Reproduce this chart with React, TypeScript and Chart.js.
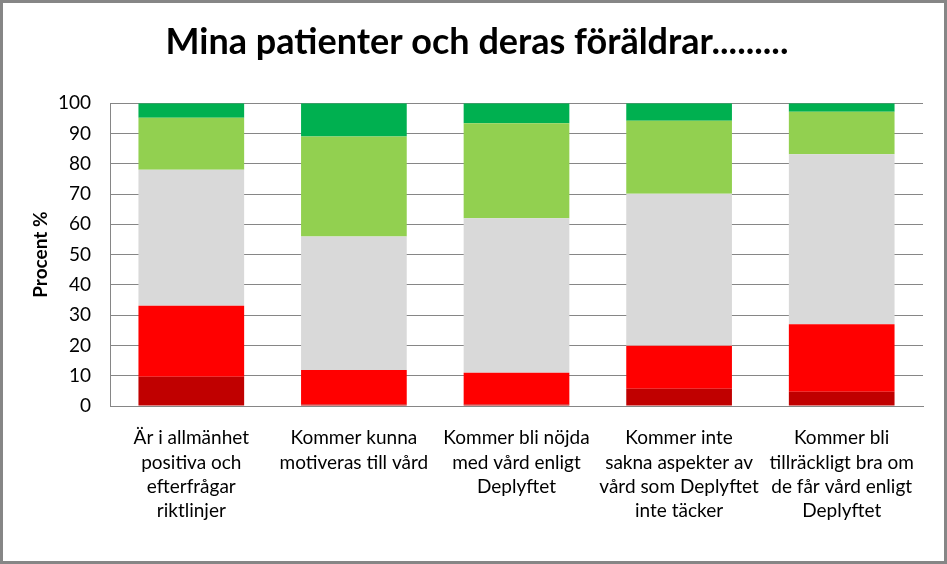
import React, { useEffect, useRef } from "react";
import { Chart, registerables } from "chart.js";

Chart.register(...registerables);

const categories: string[][] = [
  ["Är i allmänhet", "positiva och", "efterfrågar", "riktlinjer"],
  ["Kommer kunna", "motiveras till vård"],
  ["Kommer bli nöjda", "med vård enligt", "Deplyftet"],
  ["Kommer inte", "sakna aspekter av", "vård som Deplyftet", "inte täcker"],
  ["Kommer bli", "tillräckligt bra om", "de får vård enligt", "Deplyftet"],
];

const darkRed = [9.7, 0.5, 0.5, 5.7, 4.7];
const red = [23.4, 11.4, 10.5, 14.2, 22.3];
const gray = [44.9, 44.1, 51.0, 50.2, 56.1];
const lightGreen = [17.2, 33.0, 31.4, 24.1, 14.1];
const darkGreen = [4.8, 11.0, 6.6, 5.8, 2.8];

const yTicks = [0, 10, 20, 30, 40, 50, 60, 70, 80, 90, 100];

const titleText = "Mina patienter och deras föräldrar.........";
const yTitle = "Procent %";

const FONT = "Lato, 'Open Sans', sans-serif";

export default function App() {
  const ref = useRef<HTMLCanvasElement | null>(null);

  useEffect(() => {
    if (!ref.current) return;
    const mk = (label: string, data: number[], color: string) => ({
      label,
      data,
      backgroundColor: color,
      borderWidth: 0,
      barPercentage: 0.65,
      categoryPercentage: 1,
    });
    const chart = new Chart(ref.current, {
      type: "bar",
      data: {
        labels: categories,
        datasets: [
          mk("1", darkRed, "#C00000"),
          mk("2", red, "#FF0000"),
          mk("3", gray, "#D9D9D9"),
          mk("4", lightGreen, "#92D050"),
          mk("5", darkGreen, "#00B050"),
        ],
      },
      options: {
        animation: false,
        responsive: false,
        devicePixelRatio: 1,
        layout: { padding: { left: 7, right: 0, top: 0, bottom: 0 } },
        plugins: {
          legend: { display: false },
          tooltip: { enabled: false },
          title: {
            display: true,
            text: titleText,
            color: "#000",
            font: { family: FONT, size: 36, weight: "bold", lineHeight: 1.2 },
            padding: { top: 21, bottom: 39 },
          },
        },
        scales: {
          x: {
            stacked: true,
            grid: { display: false },
            border: { display: true, color: "#868686", width: 1 },
            ticks: {
              color: "#000",
              font: { family: FONT, size: 19, lineHeight: 1.28 },
              maxRotation: 0,
              autoSkip: false,
              padding: 12,
            },
            afterFit: (s: any) => {
              s.height = 158;
            },
          },
          y: {
            stacked: true,
            min: 0,
            max: 100,
            afterBuildTicks: (s: any) => {
              s.ticks = yTicks.map((v) => ({ value: v }));
            },
            grid: { color: "#868686", drawTicks: false },
            border: { display: true, color: "#868686", width: 1 },
            ticks: {
              color: "#000",
              font: { family: FONT, size: 19 },
              padding: 19,
            },
            title: {
              display: true,
              text: yTitle,
              color: "#000",
              font: { family: FONT, size: 19, weight: "bold", lineHeight: 1.2 },
              padding: { top: 22, bottom: 0 },
            },
            afterFit: (s: any) => {
              s.width = 103;
            },
          },
          yRight: {
            position: "right",
            display: true,
            min: 0,
            max: 100,
            grid: { display: false, drawTicks: false },
            border: { display: false },
            ticks: { display: false },
            afterFit: (s: any) => {
              s.width = 24;
            },
          },
        },
      },
    });
    return () => chart.destroy();
  }, []);

  return (
    <div style={{ position: "absolute", left: 0, top: 0, width: 947, height: 564, background: "#fff" }}>
      <canvas ref={ref} width={947} height={564} style={{ width: 947, height: 564, display: "block" }} />
      <div
        style={{
          position: "absolute",
          left: 0,
          top: 0,
          width: 947,
          height: 564,
          boxSizing: "border-box",
          border: "3px solid #868686",
          pointerEvents: "none",
        }}
      />
    </div>
  );
}
